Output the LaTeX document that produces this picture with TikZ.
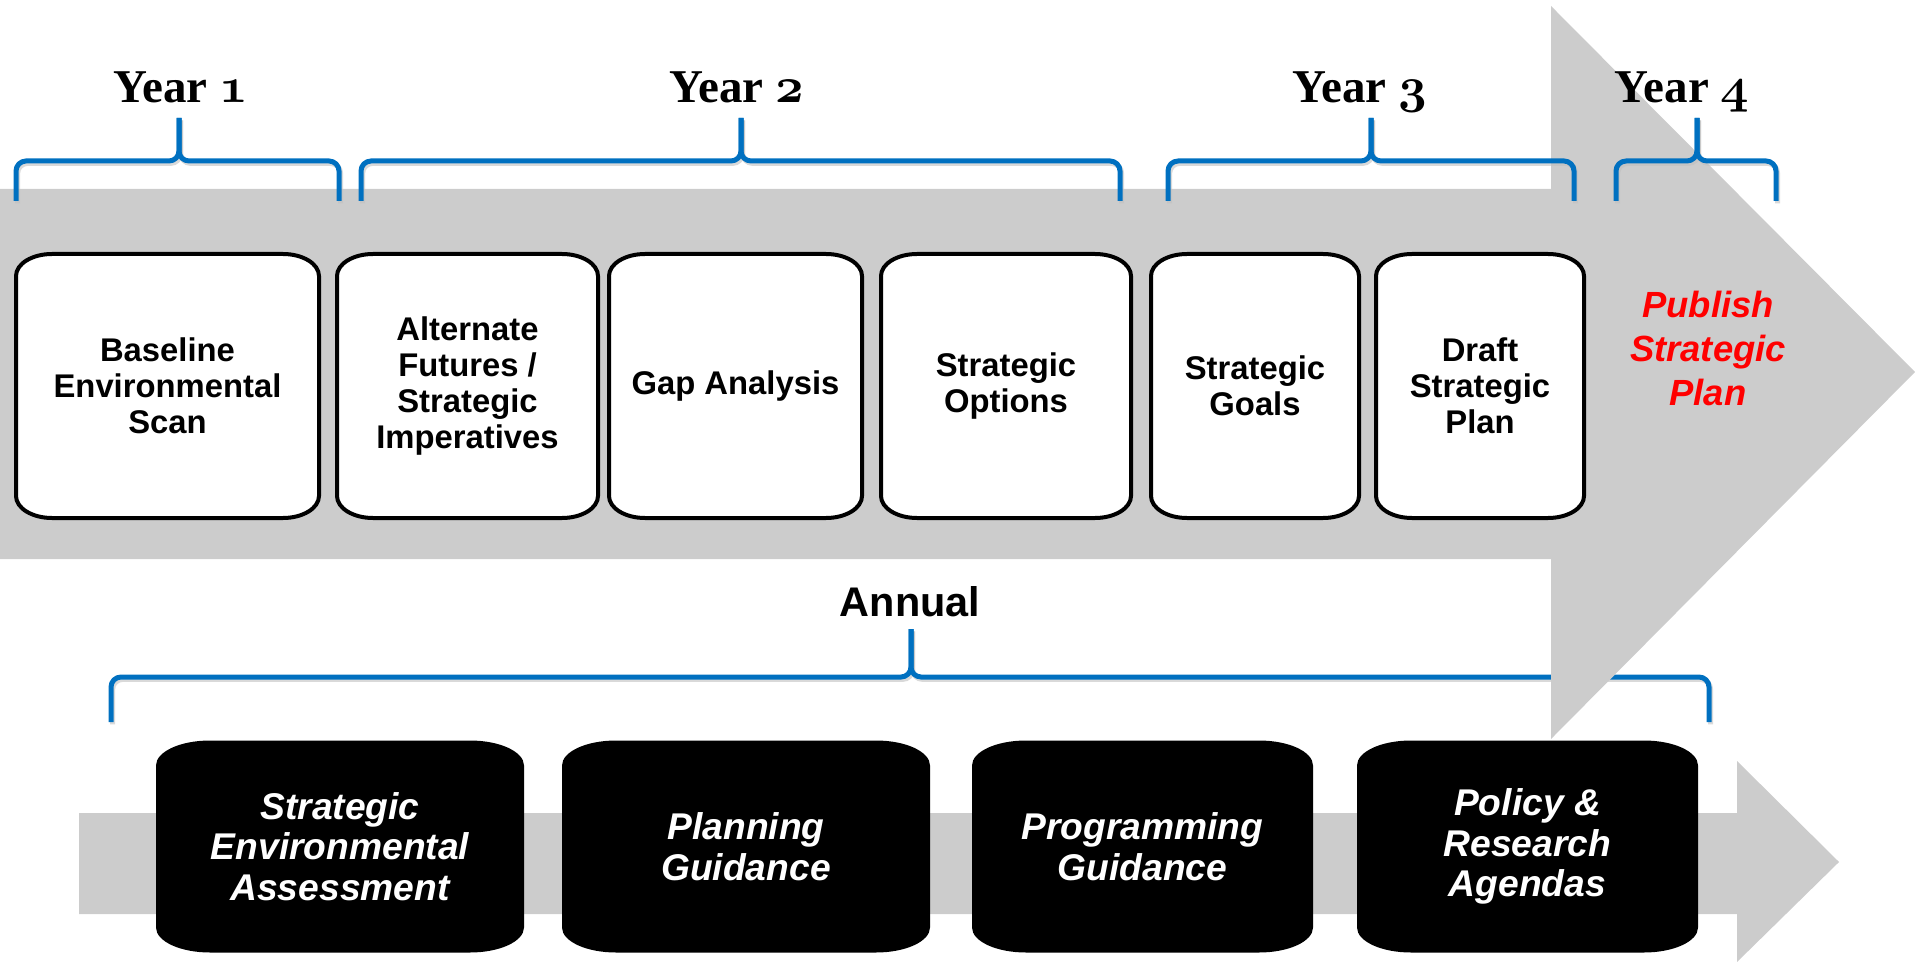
\documentclass[tikz,border=0pt]{standalone}
\usepackage{fontspec}
\newfontfamily\arialfont{Liberation Sans}
\newfontfamily\yearfont{Liberation Serif}
\usetikzlibrary{calc}
\definecolor{bandgray}{HTML}{CCCCCC}
\definecolor{braceblue}{HTML}{0070C0}
\definecolor{pubred}{HTML}{FF0000}
\newcommand{\osdigit}[1]{{\usefont{OML}{cmm}{b}{it}\fontsize{26}{26}\selectfont#1}}
\newcommand{\ovalpath}[2]{let \p1=([shift={(1pt,1pt)}]path picture bounding box.south west),
  \p2=([shift={(-1pt,-1pt)}]path picture bounding box.north east) in
  (\x1,\y1+#2) -- (\x1,\y2-#2) arc[start angle=180,end angle=90,x radius=#1,y radius=#2]
  -- (\x2-#1,\y2) arc[start angle=90,end angle=0,x radius=#1,y radius=#2]
  -- (\x2,\y1+#2) arc[start angle=0,end angle=-90,x radius=#1,y radius=#2]
  -- (\x1+#1,\y1) arc[start angle=270,end angle=180,x radius=#1,y radius=#2] -- cycle}
\tikzset{
  stepcard/.style={minimum height=134pt, inner sep=0pt, align=center,
    font=\arialfont\bfseries\fontsize{16.4}{18}\selectfont,
    path picture={\path[fill=white,draw=black,line width=2pt] \ovalpath{18pt}{11pt};}},
  annualcard/.style={minimum height=108pt, inner sep=0pt, align=center, text=white,
    font=\arialfont\bfseries\itshape\fontsize{18.6}{20.25}\selectfont,
    path picture={\fill[black] \ovalpath{27pt}{12.5pt};}},
  yearbrace/.style={draw=braceblue, line width=2.5pt, rounded corners=5pt},
  braceshadow/.style={draw=black!25, line width=2.5pt, rounded corners=5pt, opacity=.6, shift={(0.8pt,-1.2pt)}},
  yearlabel/.style={font=\yearfont\bfseries\fontsize{23.5}{26}\selectfont, anchor=base, inner sep=0pt}
}

\begin{document}
\begin{tikzpicture}[x=0.5pt,y=-0.5pt]
  \useasboundingbox (0,0) rectangle (1915,962);
  \draw[braceshadow] (111,722) |- (911,677) -- (911,629);
  \draw[braceshadow] (1709,722) |- (911,677) -- (911,629);
  \draw[yearbrace] (111,722) |- (911,677) -- (911,629);
  \draw[yearbrace] (1709,722) |- (911,677) -- (911,629);
  \fill[bandgray] (0,189) -- (1551,189) -- (1551,6) -- (1915,372) -- (1551,739) -- (1551,559) -- (0,559) -- cycle;
  \fill[bandgray] (79,813) -- (1737,813) -- (1737,761) -- (1839,862) -- (1737,962) -- (1737,914) -- (79,914) -- cycle;

  \node[stepcard, minimum width=153.5pt] (scan) at (167.5,386) {Baseline\\Environmental\\Scan};
  \node[stepcard, minimum width=132.5pt] (futures) at (467.5,386) {Alternate\\Futures /\\Strategic\\Imperatives};
  \node[stepcard, minimum width=128.5pt] (gap) at (735.5,386) {Gap Analysis};
  \node[stepcard, minimum width=127pt] (options) at (1006,386) {Strategic\\Options};
  \node[stepcard, minimum width=106pt] (goals) at (1255,386) {Strategic\\Goals};
  \node[stepcard, minimum width=106pt] (draft) at (1480,386) {Draft\\Strategic\\Plan};
  \node[align=center, text=pubred, font=\arialfont\bfseries\itshape\fontsize{18.2}{22}\selectfont] (publish) at (1708,348) {Publish\\Strategic\\Plan};

  \foreach \xa/\xt/\xb in {16/179/339, 361/741/1120, 1168/1371/1574, 1616/1697/1776}{
    \draw[braceshadow] (\xa,201) |- (\xt,161) -- (\xt,118);
    \draw[braceshadow] (\xb,201) |- (\xt,161) -- (\xt,118);
    \draw[yearbrace] (\xa,201) |- (\xt,161) -- (\xt,118);
    \draw[yearbrace] (\xb,201) |- (\xt,161) -- (\xt,118);
  }
  \node[yearlabel] (year1) at (181,103) {Year \osdigit{1}};
  \node[yearlabel] (year2) at (737,103) {Year \osdigit{2}};
  \node[yearlabel] (year3) at (1360,103) {Year \osdigit{3}};
  \node[yearlabel] (year4) at (1682,103) {Year \osdigit{4}};

  \node[font=\arialfont\bfseries\fontsize{20.7}{24}\selectfont] (annual) at (910,602) {Annual};
  \node[annualcard, minimum width=186pt] (sea) at (340,846.5) {Strategic\\Environmental\\Assessment};
  \node[annualcard, minimum width=186pt] (planning) at (746,846.5) {Planning\\Guidance};
  \node[annualcard, minimum width=172.5pt] (programming) at (1142.5,846.5) {Programming\\Guidance};
  \node[annualcard, minimum width=172.5pt] (agendas) at (1527.5,846.5) {Policy \&\\Research\\Agendas};
\end{tikzpicture}
\end{document}
